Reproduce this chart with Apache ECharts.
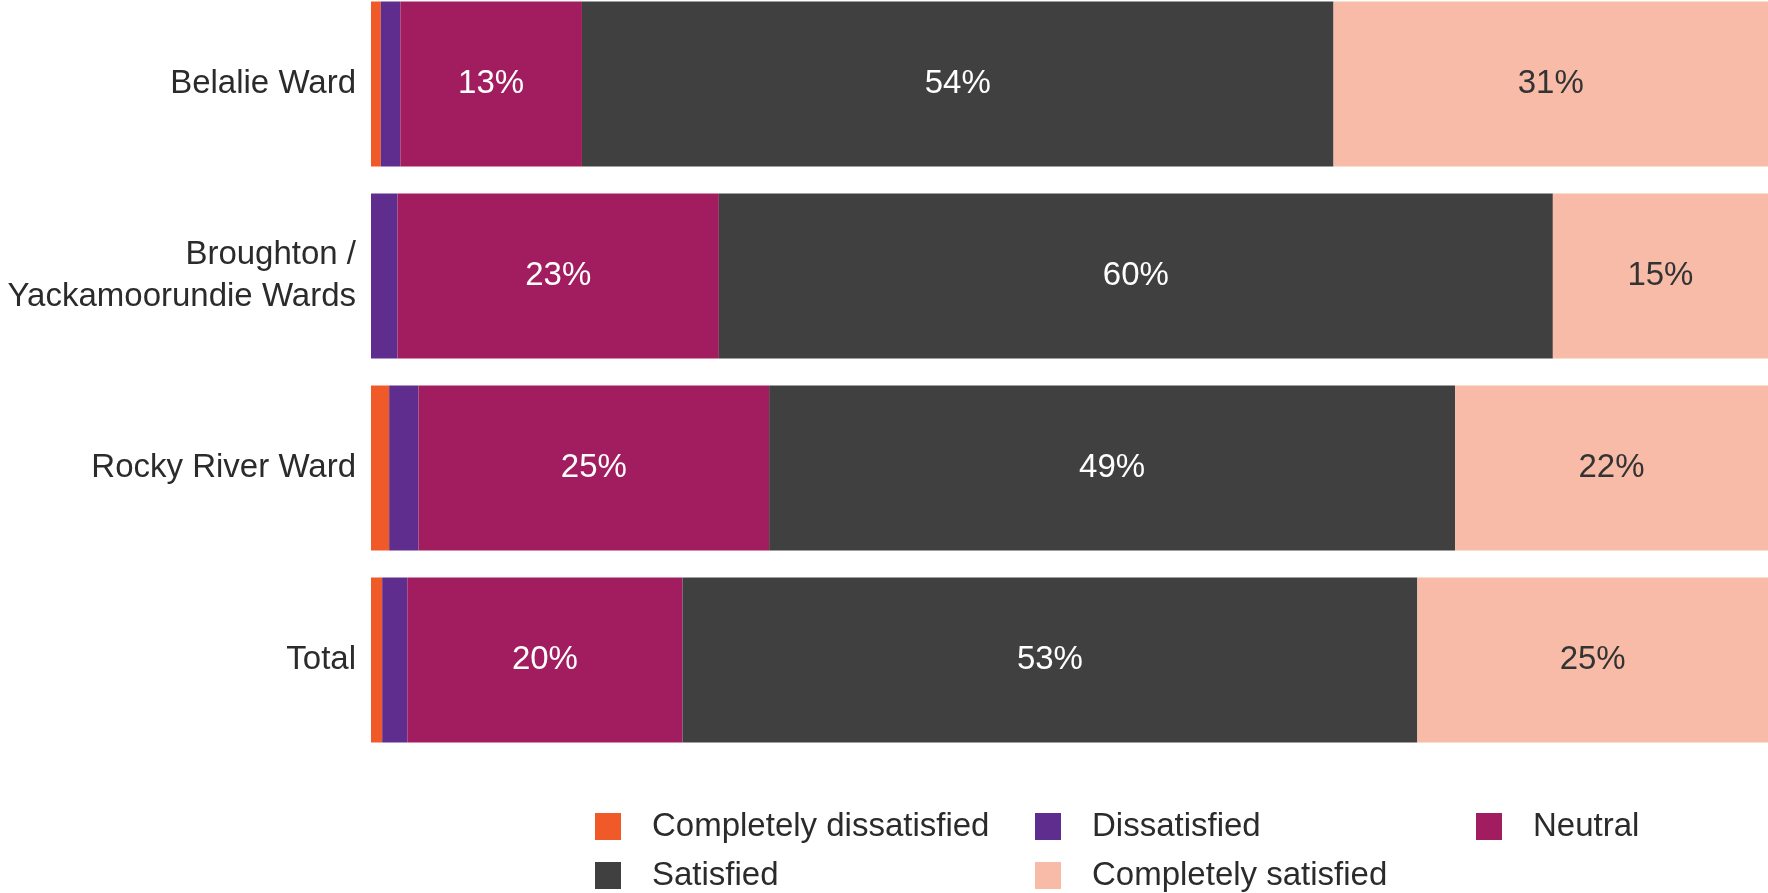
<!DOCTYPE html>
<html>
<head>
<meta charset="utf-8">
<style>
  html, body { margin: 0; padding: 0; background: #ffffff; }
  #chart { width: 1768px; height: 893px; }
</style>
<script src="https://cdn.jsdelivr.net/npm/echarts@6/dist/echarts.min.js"></script>
</head>
<body>
<div id="chart"></div>
<script>
// Satisfaction by ward (% of respondents)
const categories = ['Belalie Ward', 'Broughton /\nYackamoorundie Wards', 'Rocky River Ward', 'Total'];
const seriesNames = ['Completely dissatisfied', 'Dissatisfied', 'Neutral', 'Satisfied', 'Completely satisfied'];
const completelyDissatisfied = [0.7, 0, 1.3, 0.8];
const dissatisfied = [1.4, 1.9, 2.1, 1.8];
const neutral = [13, 23, 25.1, 19.7];
const satisfied = [53.8, 59.7, 49.1, 52.6];
const completelySatisfied = [31.1, 15.4, 22.4, 25.1];

const colors = ['#F05A28', '#5E2D8E', '#A11D5F', '#404040', '#F8BBA8'];
const labelColors = [null, null, '#ffffff', '#ffffff', '#333333'];
const values = [completelyDissatisfied, dissatisfied, neutral, satisfied, completelySatisfied];
const FONT = '"Liberation Sans", Arial, sans-serif';

const series = seriesNames.map((name, i) => ({
  name: name,
  type: 'bar',
  stack: 'all',
  barWidth: 165,
  data: values[i],
  itemStyle: { color: colors[i] },
  label: {
    show: labelColors[i] !== null,
    position: 'inside',
    color: labelColors[i] || '#fff',
    fontFamily: FONT,
    fontSize: 33,
    formatter: p => Math.round(p.value) + '%'
  },
  emphasis: { disabled: true }
}));

// legend items laid out on a 3-column grid
const legendPos = [
  { left: 590, top: 805 },
  { left: 1030, top: 805 },
  { left: 1471, top: 805 },
  { left: 590, top: 854 },
  { left: 1030, top: 854 }
];
const legends = seriesNames.map((name, i) => ({
  data: [name],
  left: legendPos[i].left,
  top: legendPos[i].top,
  orient: 'horizontal',
  itemWidth: 26,
  itemHeight: 27,
  selectedMode: false,
  icon: 'rect',
  textStyle: {
    fontFamily: FONT,
    fontSize: 33,
    color: '#2b2b2b',
    padding: [0, 0, 0, 26]
  }
}));

const chart = echarts.init(document.getElementById('chart'), null, { renderer: 'canvas' });
chart.setOption({
  animation: false,
  backgroundColor: '#ffffff',
  grid: {
    left: 371, right: 0, top: -12, height: 768,
    containLabel: false,
    outerBoundsMode: 'none'
  },
  xAxis: {
    type: 'value',
    min: 0,
    max: 100,
    show: false
  },
  yAxis: {
    type: 'category',
    data: categories,
    inverse: true,
    axisLine: { show: false },
    axisTick: { show: false },
    axisLabel: {
      margin: 15,
      fontFamily: FONT,
      fontSize: 33,
      lineHeight: 42,
      color: '#2b2b2b',
      align: 'right'
    }
  },
  legend: legends,
  series: series
});
</script>
</body>
</html>
